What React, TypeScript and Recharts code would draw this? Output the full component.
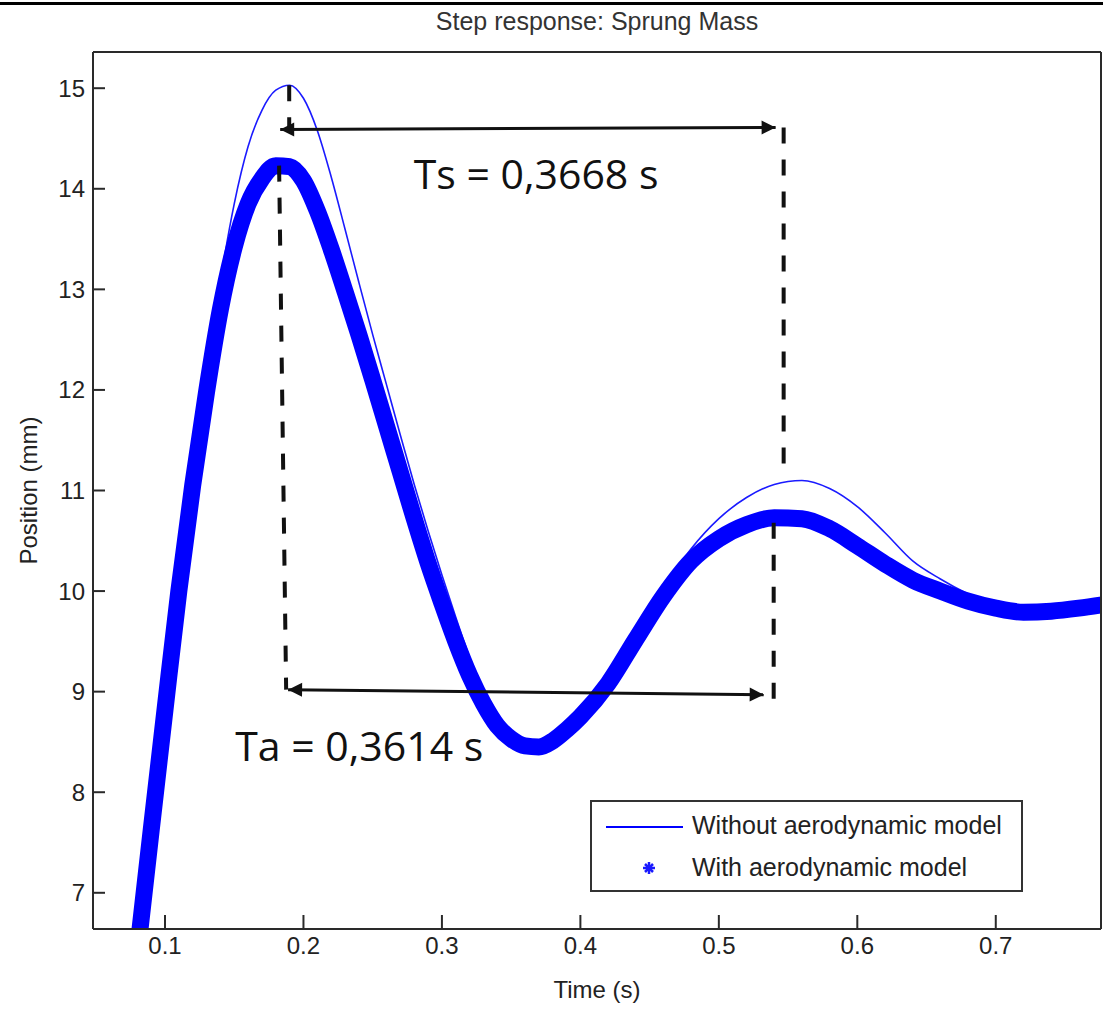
import React from 'react';
import { LineChart, Line, XAxis, YAxis, ReferenceLine, ReferenceDot, Legend } from 'recharts';

// time axis (s) and the two step responses (mm)
const TIME = [
    0.08, 0.09, 0.1, 0.11, 0.12, 0.13, 0.14, 0.15, 0.16, 0.17, 0.18, 0.19, 0.2, 0.21, 0.22, 0.23, 0.24,
    0.25, 0.26, 0.27, 0.28, 0.29, 0.3, 0.31, 0.32, 0.33, 0.34, 0.35, 0.36, 0.37, 0.38, 0.39, 0.4,
    0.42, 0.44, 0.46, 0.48, 0.5, 0.52, 0.54, 0.56, 0.58, 0.6, 0.62, 0.64, 0.66, 0.68, 0.7, 0.72, 0.74, 0.76, 0.78
];
const WITHOUT_AERO = [
    6.4, 7.62, 8.82, 10.02, 11.12, 12.15, 13.08, 13.85, 14.42, 14.78, 14.98, 15.03, 14.9, 14.58, 14.12, 13.6, 13.07,
    12.55, 12.05, 11.55, 11.06, 10.6, 10.16, 9.74, 9.34, 8.97, 8.68, 8.5, 8.44, 8.44, 8.5, 8.62, 8.76,
    9.1, 9.56, 10.02, 10.42, 10.72, 10.93, 11.06, 11.1, 11.02, 10.84, 10.58, 10.3, 10.12, 9.97, 9.85, 9.79, 9.8, 9.83, 9.87
];
const WITH_AERO = [
    6.4, 7.62, 8.82, 10.0, 11.05, 11.98, 12.8, 13.42, 13.85, 14.1, 14.23, 14.22, 14.08, 13.78, 13.4, 12.98, 12.55,
    12.1, 11.64, 11.18, 10.72, 10.28, 9.88, 9.5, 9.16, 8.88, 8.66, 8.53, 8.46, 8.45, 8.51, 8.62, 8.75,
    9.08, 9.52, 9.95, 10.3, 10.52, 10.66, 10.73, 10.72, 10.62, 10.45, 10.27, 10.11, 10.0, 9.9, 9.83, 9.79, 9.8, 9.83, 9.87
];
const SERIES_NAMES = ['Without aerodynamic model', 'With aerodynamic model'];
const X_TICKS = [0.1, 0.2, 0.3, 0.4, 0.5, 0.6, 0.7];
const Y_TICKS = [7, 8, 9, 10, 11, 12, 13, 14, 15];

// annotations, in data units: [t1, v1, t2, v2]
const DASHED_MARKS = [
    [0.1897, 15.03, 0.1897, 14.6],
    [0.1824, 14.23, 0.1875, 9.02],
    [0.5468, 14.61, 0.5468, 11.12],
    [0.5396, 10.68, 0.5396, 8.9]
];
const ARROW_MARKS = [
    [0.1832, 14.59, 0.541, 14.61],
    [0.1889, 9.02, 0.5324, 8.97]
];
const NOTES = [
    { t: 0.368, v: 14.14, text: 'Ts = 0,3668 s' },
    { t: 0.2403, v: 8.46, text: 'Ta = 0,3614 s' }
];

const data = TIME.map((t, i) => ({ t, without: WITHOUT_AERO[i], with: WITH_AERO[i] }));

const FONT = "'Liberation Sans', Arial, sans-serif";
const AXIS_COLOR = '#2a2a2a';
const tickStyle = { fontSize: 24, fill: '#222', fontFamily: FONT };

const head = (x: number, y: number, a: number) => {
    const L = 14, W = 7;
    const bx = x - L * Math.cos(a), by = y - L * Math.sin(a);
    return `${x},${y} ${bx + W * Math.sin(a)},${by - W * Math.cos(a)} ${bx - W * Math.sin(a)},${by + W * Math.cos(a)}`;
};

const ArrowShape = (props: any) => {
    const { x1, y1, x2, y2 } = props;
    const a = Math.atan2(y2 - y1, x2 - x1);
    return (
        <g>
            <line x1={x1} y1={y1} x2={x2} y2={y2} stroke="#111" strokeWidth={3} />
            <polygon points={head(x2, y2, a)} fill="#111" />
            <polygon points={head(x1, y1, a + Math.PI)} fill="#111" />
        </g>
    );
};

const LegendBox = (props: any) => {
    const items = props.payload && props.payload.length ? props.payload : [];
    const colorOf = (i: number) => (items[i] && items[i].color) || '#0000ff';
    return (
        <div style={{
            width: 433, height: 92, boxSizing: 'border-box', border: '2px solid #333', background: '#fff',
            fontFamily: FONT, fontSize: 25, color: '#222', position: 'relative'
        }}>
            <div style={{ position: 'absolute', left: 14, top: 24, width: 77, height: 2, background: colorOf(0) }} />
            <div style={{ position: 'absolute', left: 100, top: 9, lineHeight: '28px', whiteSpace: 'nowrap' }}>{SERIES_NAMES[0]}</div>
            <svg style={{ position: 'absolute', left: 50, top: 59 }} width={14} height={14}>
                <g stroke={colorOf(1)} strokeWidth={2.5}>
                    <line x1={7} y1={1} x2={7} y2={13} />
                    <line x1={1} y1={7} x2={13} y2={7} />
                    <line x1={3} y1={3} x2={11} y2={11} />
                    <line x1={11} y1={3} x2={3} y2={11} />
                </g>
            </svg>
            <div style={{ position: 'absolute', left: 100, top: 51, lineHeight: '28px', whiteSpace: 'nowrap' }}>{SERIES_NAMES[1]}</div>
        </div>
    );
};

export default function App() {
    return (
        <div style={{ position: 'absolute', left: 0, top: 0, width: 1103, height: 1010, background: '#fff', overflow: 'hidden' }}>
            <div style={{ position: 'absolute', left: 0, top: 2, width: 1103, height: 3, background: '#000' }} />
            <div style={{
                position: 'absolute', left: 597, top: 7, transform: 'translateX(-50%)', whiteSpace: 'nowrap',
                fontFamily: FONT, fontSize: 25, color: '#333'
            }}>
                Step response: Sprung Mass
            </div>
            <LineChart width={1103} height={1010} data={data} margin={{ top: 51, right: 1, bottom: 21, left: 0 }}>
                <XAxis
                    dataKey="t"
                    type="number"
                    domain={[0.048, 0.776]}
                    allowDataOverflow
                    ticks={X_TICKS}
                    height={60}
                    stroke={AXIS_COLOR}
                    strokeWidth={2}
                    tickSize={-14}
                    tickMargin={22}
                    tick={tickStyle}
                    label={{ value: 'Time (s)', position: 'bottom', offset: -8, fontSize: 24, fill: '#222', fontFamily: FONT }}
                />
                <XAxis
                    xAxisId="top"
                    orientation="top"
                    type="number"
                    domain={[0.048, 0.776]}
                    allowDataOverflow
                    ticks={X_TICKS}
                    height={1}
                    stroke={AXIS_COLOR}
                    strokeWidth={2}
                    tickSize={-14}
                    tick={false}
                />
                <YAxis
                    type="number"
                    domain={[6.64, 15.36]}
                    allowDataOverflow
                    ticks={Y_TICKS}
                    width={93}
                    stroke={AXIS_COLOR}
                    strokeWidth={2}
                    tickSize={-12}
                    tickMargin={20}
                    tick={tickStyle}
                    label={{
                        value: 'Position (mm)', angle: -90, position: 'insideLeft', offset: 28,
                        style: { textAnchor: 'middle' }, fontSize: 24, fill: '#222', fontFamily: FONT
                    }}
                />
                <YAxis
                    yAxisId="right"
                    orientation="right"
                    type="number"
                    domain={[6.64, 15.36]}
                    allowDataOverflow
                    ticks={Y_TICKS}
                    width={1}
                    stroke={AXIS_COLOR}
                    strokeWidth={2}
                    tickSize={-12}
                    tick={false}
                />
                <Line
                    name={SERIES_NAMES[0]}
                    dataKey="without"
                    type="monotone"
                    stroke="#1a1aff"
                    strokeWidth={1.6}
                    dot={false}
                    activeDot={false}
                    isAnimationActive={false}
                />
                <Line
                    name={SERIES_NAMES[1]}
                    dataKey="with"
                    type="monotone"
                    stroke="#0000ff"
                    strokeWidth={17}
                    strokeLinecap="round"
                    strokeLinejoin="round"
                    dot={false}
                    activeDot={false}
                    isAnimationActive={false}
                />
                {DASHED_MARKS.map((d, i) => (
                    <ReferenceLine
                        key={'d' + i}
                        segment={[{ x: d[0], y: d[1] }, { x: d[2], y: d[3] }]}
                        stroke="#111"
                        strokeWidth={4}
                        strokeDasharray="16 16"
                        ifOverflow="visible"
                    />
                ))}
                {ARROW_MARKS.map((d, i) => (
                    <ReferenceLine
                        key={'a' + i}
                        segment={[{ x: d[0], y: d[1] }, { x: d[2], y: d[3] }]}
                        shape={ArrowShape}
                        ifOverflow="visible"
                    />
                ))}
                {NOTES.map((n) => (
                    <ReferenceDot
                        key={n.text}
                        x={n.t}
                        y={n.v}
                        r={0}
                        fill="none"
                        stroke="none"
                        ifOverflow="visible"
                        label={{ value: n.text, position: 'center', fontSize: 41, fill: '#111', fontFamily: "'Open Sans', sans-serif" }}
                    />
                ))}
                <Legend
                    content={<LegendBox />}
                    layout="horizontal"
                    verticalAlign="middle"
                    align="center"
                    wrapperStyle={{ left: 590, top: 800, width: 433, height: 92 }}
                />
            </LineChart>
        </div>
    );
}
